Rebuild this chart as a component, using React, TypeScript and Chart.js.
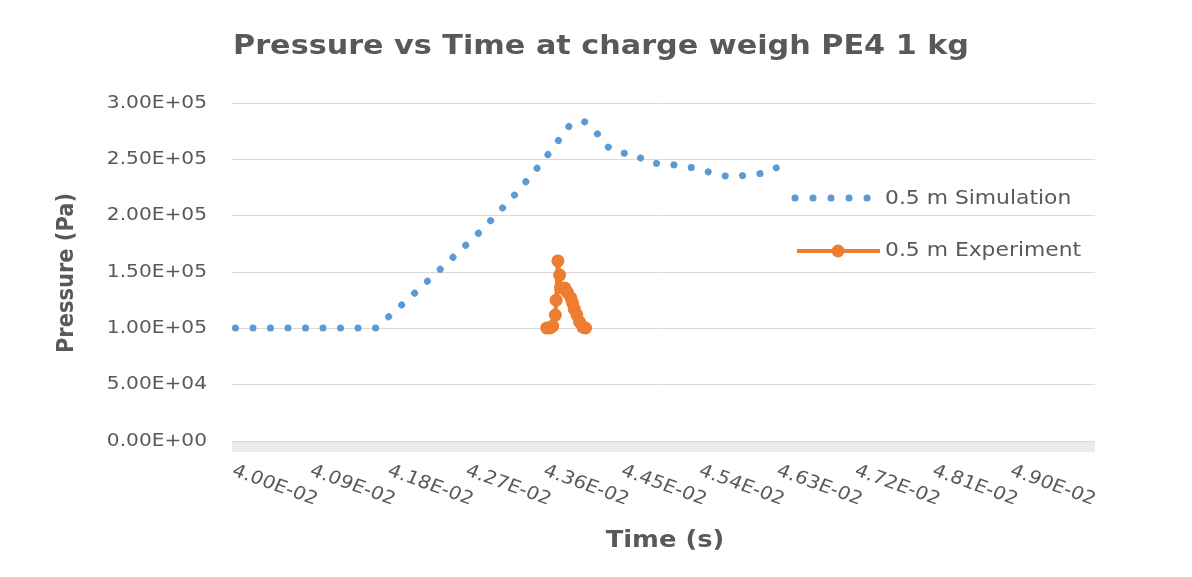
import React, { useEffect, useRef } from 'react';
import { Chart, registerables } from 'chart.js';

Chart.register(...registerables);

// ---- Text ----
const chartTitle = 'Pressure vs Time at charge weigh PE4 1 kg';
const xAxisTitle = 'Time (s)';
const yAxisTitle = 'Pressure (Pa)';
const simLabel = '0.5 m Simulation';
const expLabel = '0.5 m Experiment';

// ---- Axis ticks ----
const xTickLabels = ['4.00E-02', '4.09E-02', '4.18E-02', '4.27E-02', '4.36E-02', '4.45E-02', '4.54E-02', '4.63E-02', '4.72E-02', '4.81E-02', '4.90E-02'];
const yTickValues = [0, 50000, 100000, 150000, 200000, 250000, 300000];
const yTickLabels = ['0.00E+00', '5.00E+04', '1.00E+05', '1.50E+05', '2.00E+05', '2.50E+05', '3.00E+05'];
const xMin = 0.03996;
const xMax = 0.049943;
const xCategoryStep = 0.00001; // spacing of the dense category tick marks

// ---- Series: 0.5 m Simulation ----
const simTime = [0.04000, 0.04163, 0.04205, 0.04246, 0.04285, 0.04321, 0.04355, 0.04387, 0.04403, 0.04418, 0.04427, 0.04444, 0.04462, 0.04477, 0.04498, 0.04518, 0.04536, 0.04555, 0.04573, 0.04593, 0.04613, 0.04630];
const simPressure = [100300, 100300, 129600, 158900, 187300, 216600, 247600, 280500, 284000, 273400, 262700, 255600, 254700, 246800, 245900, 244100, 241400, 237000, 234300, 236100, 237900, 244100];

// ---- Series: 0.5 m Experiment ----
const expTime = [0.04360, 0.04364, 0.04367, 0.04370, 0.04371, 0.04373, 0.04375, 0.04376, 0.04381, 0.04384, 0.04388, 0.04390, 0.04392, 0.04395, 0.04398, 0.04402, 0.04405];
const expPressure = [100300, 100300, 102000, 111800, 125000, 159800, 147300, 135800, 135800, 132000, 127000, 122500, 117000, 112000, 105600, 101000, 100300];

const BLUE = '#5B9BD5';
const ORANGE = '#ED7D31';
const TEXT = '#595959';
const GRID = '#d9d9d9';
const SX = 1.12; // horizontal stretch of the reference picture

function drawText(ctx: CanvasRenderingContext2D, s: string, x: number, y: number, font: string, color: string, align: CanvasTextAlign, baseline: CanvasTextBaseline, rot = 0) {
  ctx.save();
  ctx.translate(x, y);
  ctx.scale(SX, 1);
  ctx.rotate(rot);
  ctx.font = font;
  ctx.fillStyle = color;
  ctx.textAlign = align;
  ctx.textBaseline = baseline;
  ctx.fillText(s, 0, 0);
  ctx.restore();
}

const textPlugin = {
  id: 'customText',
  afterDraw(chart: any) {
    const ctx: CanvasRenderingContext2D = chart.ctx;
    const xs = chart.scales.x;
    const ys = chart.scales.y;
    const fam = '"DejaVu Sans", sans-serif';

    // title
    drawText(ctx, chartTitle, 601, 47, `bold 27px ${fam}`, TEXT, 'center', 'middle');

    // y tick labels
    yTickValues.forEach((v, i) => {
      drawText(ctx, yTickLabels[i], 207, ys.getPixelForValue(v), `18px ${fam}`, TEXT, 'right', 'middle');
    });

    // x tick labels (rotated)
    const rot = (22 * Math.PI) / 180;
    xTickLabels.forEach((lab) => {
      const px = xs.getPixelForValue(parseFloat(lab));
      drawText(ctx, lab, px + 1, 462, `18px ${fam}`, TEXT, 'left', 'top', rot);
    });

    // axis titles
    drawText(ctx, xAxisTitle, 665, 541, `bold 23px ${fam}`, TEXT, 'center', 'middle');
    drawText(ctx, yAxisTitle, 67, 273, `bold 21px ${fam}`, TEXT, 'center', 'middle', -Math.PI / 2);

    // legend
    ctx.save();
    ctx.strokeStyle = BLUE;
    ctx.lineWidth = 7;
    ctx.lineCap = 'round';
    ctx.setLineDash([0.01, 18]);
    ctx.beginPath();
    ctx.moveTo(795, 198);
    ctx.lineTo(870, 198);
    ctx.stroke();
    ctx.setLineDash([]);
    ctx.lineCap = 'butt';
    ctx.strokeStyle = ORANGE;
    ctx.lineWidth = 4;
    ctx.beginPath();
    ctx.moveTo(797, 251);
    ctx.lineTo(880, 251);
    ctx.stroke();
    ctx.fillStyle = ORANGE;
    ctx.beginPath();
    ctx.arc(838, 251, 6.5, 0, Math.PI * 2);
    ctx.fill();
    ctx.restore();
    drawText(ctx, simLabel, 885, 199, `19.5px ${fam}`, TEXT, 'left', 'middle');
    drawText(ctx, expLabel, 885, 251, `19.5px ${fam}`, TEXT, 'left', 'middle');
  },
};

export default function App() {
  const ref = useRef<HTMLCanvasElement>(null);

  useEffect(() => {
    if (!ref.current) return;
    const chart = new Chart(ref.current, {
      type: 'line',
      data: {
        datasets: [
          {
            label: simLabel,
            data: simTime.map((t, i) => ({ x: t, y: simPressure[i] })),
            borderColor: BLUE,
            backgroundColor: BLUE,
            borderWidth: 7,
            borderDash: [0.01, 17.5],
            borderCapStyle: 'round',
            borderJoinStyle: 'round',
            pointRadius: 0,
            tension: 0,
            fill: false,
          },
          {
            label: expLabel,
            data: expTime.map((t, i) => ({ x: t, y: expPressure[i] })),
            borderColor: ORANGE,
            backgroundColor: ORANGE,
            borderWidth: 4,
            pointRadius: 6.5,
            pointBorderWidth: 0,
            pointBackgroundColor: ORANGE,
            pointBorderColor: ORANGE,
            tension: 0,
            fill: false,
          },
        ],
      },
      options: {
        animation: false,
        responsive: false,
        events: [],
        layout: { padding: { left: 0, top: 103, right: 97, bottom: 0 } },
        plugins: {
          legend: { display: false },
          title: { display: false },
          tooltip: { enabled: false },
        },
        scales: {
          x: {
            type: 'linear',
            min: xMin,
            max: xMax,
            afterBuildTicks: (scale: any) => {
              const ticks: { value: number }[] = [];
              const start = Math.ceil(xMin / xCategoryStep);
              const end = Math.floor(xMax / xCategoryStep);
              for (let k = start; k <= end; k++) ticks.push({ value: k * xCategoryStep });
              scale.ticks = ticks;
            },
            afterFit: (scale: any) => {
              scale.height = 577 - 441;
            },
            ticks: { display: false, autoSkip: false },
            grid: {
              display: true,
              drawOnChartArea: false,
              drawTicks: true,
              tickLength: 11,
              color: '#ebebeb',
              lineWidth: 1,
            },
            border: { display: false },
          },
          y: {
            type: 'linear',
            min: 0,
            max: 300000,
            ticks: { display: false, stepSize: 50000 },
            afterFit: (scale: any) => {
              scale.width = 232;
            },
            grid: { color: GRID, lineWidth: 1, drawTicks: false },
            border: { display: false },
          },
        },
      } as any,
      plugins: [textPlugin],
    });
    return () => chart.destroy();
  }, []);

  return (
    <div style={{ position: 'absolute', left: 0, top: 0, width: 1192, height: 577, background: '#fff' }}>
      <canvas ref={ref} width={1192} height={577} style={{ display: 'block' }} />
    </div>
  );
}
